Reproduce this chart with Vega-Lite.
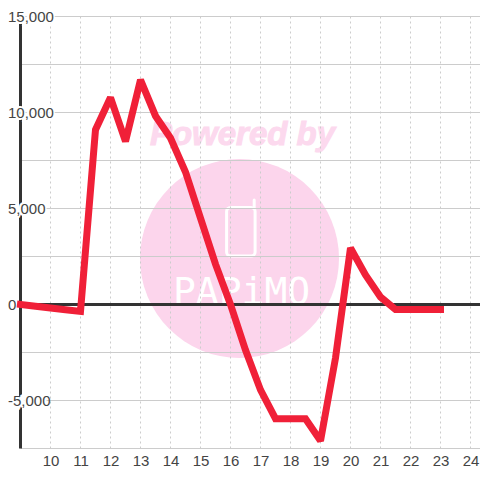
{"$schema":"https://vega.github.io/schema/vega-lite/v6.json","width":459.5,"height":432,"autosize":"none","padding":{"left":20.5,"top":16.5,"right":0,"bottom":31.5},"background":"white","config":{"view":{"stroke":null}},
"datasets":{
"series":[{"hour":9,"value":0},{"hour":9.5,"value":-90},{"hour":10,"value":-180},{"hour":10.5,"value":-270},{"hour":11,"value":-360},{"hour":11.5,"value":9100},{"hour":12,"value":10780},{"hour":12.5,"value":8500},{"hour":13,"value":11700},{"hour":13.5,"value":9820},{"hour":14,"value":8670},{"hour":14.5,"value":6900},{"hour":15,"value":4500},{"hour":15.5,"value":2100},{"hour":16,"value":0},{"hour":16.5,"value":-2370},{"hour":17,"value":-4450},{"hour":17.5,"value":-5950},{"hour":18,"value":-5950},{"hour":18.5,"value":-5950},{"hour":19,"value":-7100},{"hour":19.5,"value":-2790},{"hour":20,"value":2940},{"hour":20.5,"value":1540},{"hour":21,"value":390},{"hour":21.5,"value":-260},{"hour":22,"value":-260},{"hour":22.5,"value":-260},{"hour":23,"value":-260}],
"gridY":[{"value":-7500},{"value":-5000},{"value":-2500},{"value":0},{"value":2500},{"value":5000},{"value":7500},{"value":10000},{"value":12500},{"value":15000}],
"gridX":[{"hour":10},{"hour":11},{"hour":12},{"hour":13},{"hour":14},{"hour":15},{"hour":16},{"hour":17},{"hour":18},{"hour":19},{"hour":20},{"hour":21},{"hour":22},{"hour":23},{"hour":24}]
},
"encoding":{
"x":{"field":"hour","type":"quantitative","title":null,"scale":{"domain":[9,24.3167],"nice":false,"zero":false},"axis":{"values":[10,11,12,13,14,15,16,17,18,19,20,21,22,23,24],"grid":false,"domain":false,"ticks":false,"labelFont":"Liberation Sans","labelFontSize":15,"labelColor":"#444444","labelPadding":12,"labelBaseline":"middle","format":"d","labelFlush":false,"labelOverlap":false}},
"y":{"field":"value","type":"quantitative","title":null,"scale":{"domain":[-7500,15000],"nice":false,"zero":false},"axis":{"values":[-5000,0,5000,10000,15000],"grid":false,"domain":false,"ticks":false,"zindex":1,"labelFont":"Liberation Sans","labelFontSize":15,"labelColor":"#444444","labelAlign":"left","labelBaseline":"middle","labelPadding":13,"format":",d","labelExpr":"replace(datum.label,'−','-')","labelOverlap":false,"encode":{"labels":{"update":{"dx":{"signal":"datum.value<0?-5:0"}}}}}}
},
"layer":[
{"data":{"values":[{"hour":16.3,"value":2396}]},"mark":{"type":"point","shape":"circle","filled":true,"size":39601,"color":"#fcd5ec","opacity":1}},
{"data":{"values":[{"hour":16.4,"value":8330,"label":"Powered by"}]},"mark":{"type":"text","font":"Liberation Sans","fontSize":33,"fontWeight":"bold","fontStyle":"italic","color":"#fcd9ee","stroke":"#fcd9ee","strokeWidth":1,"align":"center","baseline":"alphabetic"},"encoding":{"text":{"field":"label"}}},
{"data":{"values":[{"hour":16.37,"value":52,"label":"PAPiMO"}]},"mark":{"type":"text","font":"DejaVu Sans Mono","fontSize":38,"color":"white","align":"center","baseline":"alphabetic"},"encoding":{"text":{"field":"label"}}},
{"data":{"values":[{"hour":15.87,"hour2":16.82,"value":5052,"value2":2526}]},"mark":{"type":"rect","fillOpacity":0,"stroke":"white","strokeWidth":3,"cornerRadius":4},"encoding":{"x2":{"field":"hour2"},"y2":{"field":"value2"}}},
{"data":{"values":[{"hour":16.79,"value":5440,"value2":5000}]},"mark":{"type":"rule","stroke":"white","strokeWidth":3,"strokeCap":"round"},"encoding":{"y2":{"field":"value2"}}},
{"data":{"name":"gridY"},"mark":{"type":"rule","stroke":"#cccccc","strokeWidth":1},"encoding":{"x":{"value":0},"x2":{"value":459.5}}},
{"data":{"name":"gridX"},"mark":{"type":"rule","stroke":"#cccccc","strokeWidth":1,"strokeDash":[2,3]},"encoding":{"y":{"value":0},"y2":{"value":432}}},
{"data":{"values":[{"hour":9}]},"mark":{"type":"rule","stroke":"#333333","strokeWidth":3},"encoding":{"y":{"value":0},"y2":{"value":432}}},
{"data":{"values":[{"value":0}]},"mark":{"type":"rule","stroke":"#333333","strokeWidth":3},"encoding":{"x":{"value":0},"x2":{"value":459.5}}},
{"data":{"values":[{"hour":9,"value":0,"label":"0"},{"hour":9,"value":5000,"label":"5,000"},{"hour":9,"value":10000,"label":"10,000"},{"hour":9,"value":15000,"label":"15,000"}]},"mark":{"type":"text","font":"Liberation Sans","fontSize":15,"align":"left","baseline":"middle","dx":-13,"color":"white","stroke":"white","strokeWidth":4},"encoding":{"text":{"field":"label"}}},
{"data":{"values":[{"hour":9,"value":-5000,"label":"-5,000"}]},"mark":{"type":"text","font":"Liberation Sans","fontSize":15,"align":"left","baseline":"middle","dx":-18,"color":"white","stroke":"white","strokeWidth":4},"encoding":{"text":{"field":"label"}}},
{"data":{"name":"series"},"mark":{"type":"line","stroke":"#f02038","strokeWidth":7,"strokeCap":"square","strokeJoin":"miter","strokeMiterLimit":1.5,"clip":false}}
]}
